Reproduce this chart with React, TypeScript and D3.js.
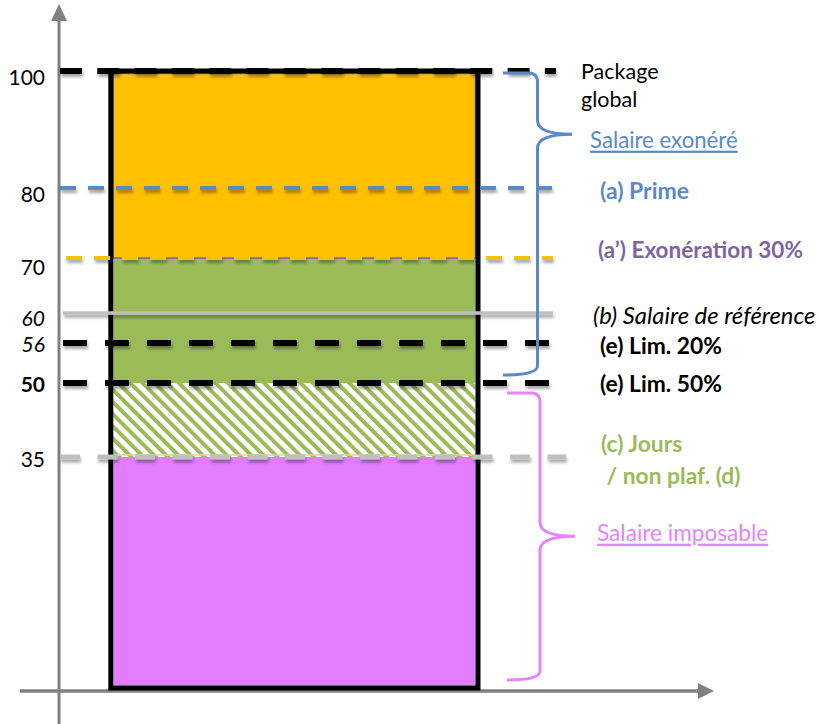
import React from 'react';
import * as d3 from 'd3';

// ---- data ----
const levelValues = [100, 80, 70, 60, 56, 50, 35];
const levelLabels = ['100', '80', '70', '60', '56', '50', '35'];
const segmentBounds = [0, 35, 50, 70, 100];
const segmentNames = ['imposable', 'jours', 'reference', 'exonere'];
const annotationTexts = ['Package', 'global', '(a) Prime', '(a’) Exonération 30%', '(b) Salaire de référence', '(e) Lim. 20%', '(e) Lim. 50%', '(c) Jours', ' / non plaf. (d)'];
const annotationValues = [100, 100, 80, 70, 60, 56, 50, 35, 35];
const braceLabels = ['Salaire exonéré', 'Salaire imposable'];
const braceRanges = [[50, 100], [0, 50]];
const braceTipValues = [89.2, 23.0];

// ---- styles / layout ----
const W = 819, H = 724;
const FONT = 'Lato, "Open Sans", sans-serif';
const levelStyles = [
  { color: '#000000', width: 6, dash: '22 15.3', x1: 60, x2: 556 },
  { color: '#5A8AC6', width: 4, dash: '16 12', x1: 60, x2: 552 },
  { color: '#FFC000', width: 4, dash: '16 12', x1: 66, x2: 553 },
  { color: '#BFBFBF', width: 3.3, dash: null, x1: 63, x2: 553 },
  { color: '#000000', width: 6, dash: '24 18', x1: 63, x2: 550 },
  { color: '#000000', width: 6, dash: '24 18', x1: 63, x2: 550 },
  { color: '#BFBFBF', width: 5, dash: '20 17.5', x1: 60, x2: 566 },
];
const levelLabelStyles = [
  { style: 'normal', weight: 400, dy: 5 },
  { style: 'normal', weight: 400, dy: 5 },
  { style: 'normal', weight: 400, dy: 8 },
  { style: 'italic', weight: 400, dy: 4 },
  { style: 'italic', weight: 400, dy: 0 },
  { style: 'normal', weight: 700, dy: 0 },
  { style: 'normal', weight: 400, dy: 1 },
];
const segmentFills = ['#E27EFE', 'url(#hatch)', '#9BBB59', '#FFC000'];
const annotationStyles = [
  { color: '#000', weight: 400, style: 'normal', x: 581, dy: 0, size: 21.5 },
  { color: '#000', weight: 400, style: 'normal', x: 581, dy: 28, size: 21.5 },
  { color: '#5A8AC6', weight: 700, style: 'normal', x: 600, dy: 2, size: 23 },
  { color: '#8064A2', weight: 700, style: 'normal', x: 598, dy: -9, size: 22.5 },
  { color: '#000', weight: 400, style: 'italic', x: 593, dy: 2, size: 23.8 },
  { color: '#000', weight: 700, style: 'normal', x: 600, dy: 2, size: 22.8 },
  { color: '#000', weight: 700, style: 'normal', x: 600, dy: 0, size: 22.8 },
  { color: '#9BBB59', weight: 700, style: 'normal', x: 601, dy: -14, size: 22.8 },
  { color: '#9BBB59', weight: 700, style: 'normal', x: 601, dy: 18, size: 22.8 },
];
const braceStyles = [
  { color: '#5A8AC6', x0: 503, xv: 537.5, xt: 572, top: 2, bottom: -8, labelX: 590, size: 22.2, labelDy: 5 },
  { color: '#E683FF', x0: 507, xv: 540, xt: 575, top: 10, bottom: -8, labelX: 597, size: 22.6, labelDy: -4 },
];

export default function App() {
  const y = d3.scaleLinear()
    .domain([0, ...levelValues.slice().reverse()])
    .range([688, 457, 383, 343, 313, 258, 188, 71]);
  const x = d3.scaleBand().domain(['package']).range([110.8, 478]).padding(0);
  const bx = x('package') as number;
  const bw = x.bandwidth();
  const inset = 2.5;

  const bracePath = (i: number) => {
    const s = braceStyles[i];
    const [lo, hi] = braceRanges[i];
    const yTop = y(hi) + s.top;
    const yBot = y(lo) + s.bottom;
    const ym = y(braceTipValues[i]);
    const r = 9, r2 = 14;
    const p = d3.path();
    p.moveTo(s.x0, yTop);
    p.lineTo(s.xv - r, yTop);
    p.quadraticCurveTo(s.xv, yTop, s.xv, yTop + r);
    p.lineTo(s.xv, ym - r2);
    p.quadraticCurveTo(s.xv, ym, s.xt, ym);
    p.quadraticCurveTo(s.xv, ym, s.xv, ym + r2);
    p.lineTo(s.xv, yBot - r);
    p.quadraticCurveTo(s.xv, yBot, s.x0, yBot);
    return p.toString();
  };

  return (
    <svg width={W} height={H} style={{ position: 'absolute', left: 0, top: 0, background: '#fff' }} fontFamily={FONT}>
      <defs>
        <pattern id="hatch" patternUnits="userSpaceOnUse" width="8.6" height="8.6" patternTransform="rotate(-45)">
          <rect width="8.6" height="8.6" fill="#ffffff" />
          <rect width="4" height="8.6" fill="#9BBB59" />
        </pattern>
        <filter id="shadow" filterUnits="userSpaceOnUse" x="0" y="0" width={W} height={H}>
          <feDropShadow dx="1" dy="3" stdDeviation="1.6" floodColor="#000" floodOpacity="0.35" />
        </filter>
      </defs>
      <rect width={W} height={H} fill="#fff" />

      {/* axes */}
      <g stroke="#808080" fill="#808080">
        <line x1={59} x2={59} y1={18} y2={H} strokeWidth={3} />
        <polygon points="59,4 51,21 67,21" stroke="none" />
        <line x1={20} x2={700} y1={691} y2={691} strokeWidth={3.5} />
        <polygon points="714,691 698,683 698,699" stroke="none" />
      </g>

      {/* segments */}
      {segmentNames.map((n, i) => {
        const y0 = y(segmentBounds[i + 1]);
        const y1 = y(segmentBounds[i]);
        return (
          <rect key={n} x={bx + inset} y={y0 + (i === 3 ? inset : 0)} width={bw - 2 * inset}
            height={y1 - y0 - (i === 3 ? inset : 0) - (i === 0 ? inset : 0)}
            fill={segmentFills[i]}
            stroke={i === 3 ? '#7E62A1' : 'none'} strokeWidth={i === 3 ? 1.5 : 0} />
        );
      })}
      <line x1={bx + inset} x2={bx + bw - inset} y1={y(35) - 2} y2={y(35) - 2} stroke="#F6C9AE" strokeWidth={1.5} />

      {/* bar border */}
      <rect x={bx} y={y(100)} width={bw} height={y(0) - y(100)} fill="none" stroke="#000" strokeWidth={5} />

      {/* level lines */}
      {levelValues.map((v, i) => {
        const s = levelStyles[i];
        return (
          <line key={'l' + v} x1={s.x1} x2={s.x2} y1={y(v)} y2={y(v)} stroke={s.color}
            strokeWidth={s.width} strokeDasharray={s.dash || undefined} filter="url(#shadow)" />
        );
      })}

      {/* level labels */}
      {levelValues.map((v, i) => {
        const s = levelLabelStyles[i];
        return (
          <text key={'t' + v} x={45} y={y(v) + s.dy} textAnchor="end" dominantBaseline="central"
            fontSize={21} fontStyle={s.style} fontWeight={s.weight} fill="#000">{levelLabels[i]}</text>
        );
      })}

      {/* braces */}
      {braceLabels.map((lab, i) => {
        const s = braceStyles[i];
        return (
          <g key={lab}>
            <path d={bracePath(i)} fill="none" stroke={s.color} strokeWidth={3} />
            <text x={s.labelX} y={y(braceTipValues[i]) + s.labelDy} dominantBaseline="central" fontSize={s.size}
              fill={s.color} textDecoration="underline">{lab}</text>
          </g>
        );
      })}

      {/* annotations */}
      {annotationTexts.map((t, i) => {
        const s = annotationStyles[i];
        return (
          <text key={'a' + i} x={s.x} y={y(annotationValues[i]) + s.dy} dominantBaseline="central"
            fontSize={s.size} fontWeight={s.weight} fontStyle={s.style} fill={s.color}
            style={{ whiteSpace: 'pre' }}>{t}</text>
        );
      })}
    </svg>
  );
}
